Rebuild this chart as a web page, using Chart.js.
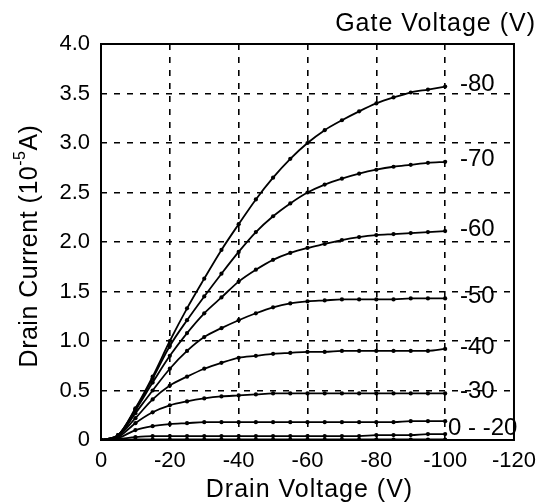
<!DOCTYPE html>
<html>
<head>
<meta charset="utf-8">
<script src="https://cdn.jsdelivr.net/npm/chart.js@4.4.0/dist/chart.umd.min.js"></script>
<style>
  html, body { margin: 0; padding: 0; background: #fff; }
  #wrap { width: 544px; height: 503px; }
</style>
</head>
<body>
<div id="wrap"><canvas id="iv-chart" width="544" height="503"></canvas></div>
<script>
// DATA (drain voltage in V, drain current in 1e-5 A)
const drainVoltage = [0, -5, -10, -15, -20, -25, -30, -35, -40, -45, -50, -55, -60, -65, -70, -75, -80, -85, -90, -95, -100];

const gateLabels = ["-80", "-70", "-60", "-50", "-40", "-30", "-20", "-10", "0"];

const current80 = [0, 0.05, 0.32, 0.64, 1.0, 1.33, 1.63, 1.92, 2.18, 2.43, 2.65, 2.84, 3.0, 3.13, 3.23, 3.32, 3.4, 3.46, 3.51, 3.54, 3.57];
const current70 = [0, 0.05, 0.31, 0.62, 0.95, 1.21, 1.45, 1.68, 1.9, 2.1, 2.26, 2.39, 2.5, 2.58, 2.64, 2.69, 2.73, 2.76, 2.78, 2.8, 2.81];
const current60 = [0, 0.05, 0.3, 0.58, 0.85, 1.08, 1.28, 1.44, 1.6, 1.72, 1.82, 1.89, 1.94, 1.98, 2.02, 2.05, 2.07, 2.08, 2.09, 2.1, 2.11];
const current50 = [0, 0.04, 0.27, 0.5, 0.72, 0.9, 1.04, 1.13, 1.21, 1.28, 1.34, 1.38, 1.4, 1.41, 1.42, 1.42, 1.42, 1.42, 1.43, 1.43, 1.43];
const current40 = [0, 0.04, 0.22, 0.41, 0.55, 0.64, 0.72, 0.78, 0.83, 0.85, 0.87, 0.88, 0.89, 0.89, 0.9, 0.9, 0.9, 0.9, 0.9, 0.9, 0.92];
const current30 = [0, 0.03, 0.17, 0.28, 0.35, 0.39, 0.42, 0.44, 0.45, 0.46, 0.47, 0.47, 0.47, 0.47, 0.47, 0.47, 0.47, 0.47, 0.47, 0.47, 0.47];
const current20 = [0, 0.02, 0.1, 0.14, 0.16, 0.17, 0.18, 0.18, 0.18, 0.18, 0.18, 0.18, 0.18, 0.18, 0.18, 0.18, 0.18, 0.18, 0.19, 0.19, 0.19];
const current10 = [0, 0.01, 0.03, 0.04, 0.04, 0.04, 0.04, 0.04, 0.04, 0.04, 0.04, 0.04, 0.04, 0.04, 0.04, 0.04, 0.05, 0.05, 0.05, 0.06, 0.06];
const current0  = [0, 0, 0.005, 0.005, 0.005, 0.005, 0.005, 0.005, 0.005, 0.005, 0.005, 0.005, 0.005, 0.005, 0.005, 0.005, 0.005, 0.005, 0.005, 0.005, 0.005];

const allCurrents = [current80, current70, current60, current50, current40, current30, current20, current10, current0];

const yTicks = [0, 0.5, 1.0, 1.5, 2.0, 2.5, 3.0, 3.5, 4.0];
const xTicks = [0, -20, -40, -60, -80, -100, -120];

const FONT = "'Liberation Sans', Arial, sans-serif";

// build datasets
const datasets = allCurrents.map((arr, i) => ({
  label: gateLabels[i],
  data: drainVoltage.map((v, j) => ({ x: v, y: arr[j] })),
  borderColor: "#000",
  backgroundColor: "#000",
  borderWidth: 1.8,
  pointRadius: 2.1,
  pointBorderWidth: 0,
  cubicInterpolationMode: "monotone"
}));

// text, frame and gate labels
const annotate = {
  id: "annotate",
  afterDraw(chart) {
    const ctx = chart.ctx;
    const a = chart.chartArea;
    const ys = chart.scales.y;

    ctx.save();
    ctx.strokeStyle = "#000";
    ctx.lineWidth = 2;
    ctx.strokeRect(a.left, a.top, a.right - a.left, a.bottom - a.top);

    ctx.fillStyle = "#000";
    ctx.textBaseline = "middle";

    // gate voltage labels at the curve ends
    ctx.font = "24px " + FONT;
    ctx.textAlign = "left";
    for (let i = 0; i < 6; i++) {
      const last = allCurrents[i][allCurrents[i].length - 1];
      ctx.fillText(gateLabels[i], a.right - 54, ys.getPixelForValue(last) - 2);
    }
    const lowEnd = (current20[20] + current10[20] + current0[20]) / 3;
    ctx.fillText(gateLabels[8] + " - " + gateLabels[6], a.right - 66, ys.getPixelForValue(lowEnd) - 3);

    // titles
    ctx.font = "25px " + FONT;
    ctx.letterSpacing = "1px";
    ctx.textAlign = "right";
    ctx.fillText("Gate Voltage (V)", 536, 24);

    ctx.textAlign = "center";
    ctx.fillText("Drain Voltage (V)", (a.left + a.right) / 2 + 2, 490);

    // y title with superscript
    ctx.letterSpacing = "0.5px";
    ctx.translate(30, 246);
    ctx.rotate(-Math.PI / 2);
    const big = "25px " + FONT, small = "16px " + FONT;
    const parts = [["Drain Current (10", big, 0], ["-5", small, -9], ["A)", big, 0]];
    let total = 0;
    parts.forEach(p => { ctx.font = p[1]; total += ctx.measureText(p[0]).width; });
    let x = -total / 2;
    ctx.textAlign = "left";
    parts.forEach(p => {
      ctx.font = p[1];
      ctx.fillText(p[0], x, p[2]);
      x += ctx.measureText(p[0]).width;
    });
    ctx.restore();
  }
};

const edgeValues = [0, 4, -120];
function gridColor(c) {
  return edgeValues.includes(c.tick.value) ? "rgba(0,0,0,0)" : "#000";
}

new Chart(document.getElementById("iv-chart"), {
  type: "line",
  data: { datasets: datasets },
  options: {
    responsive: false,
    animation: false,
    devicePixelRatio: 1,
    layout: { padding: { left: 0, right: 23, top: 44, bottom: 0 } },
    plugins: {
      legend: { display: false },
      tooltip: { enabled: false }
    },
    scales: {
      x: {
        type: "linear",
        min: -120,
        max: 0,
        reverse: true,
        afterFit(scale) { scale.height = 63; },
        afterBuildTicks(scale) { scale.ticks = xTicks.map(v => ({ value: v })); },
        ticks: {
          color: "#000",
          font: { family: FONT, size: 22 },
          padding: 8,
          maxRotation: 0,
          autoSkip: false,
          callback: v => String(v)
        },
        grid: { color: gridColor, lineWidth: 1.6, drawTicks: false },
        border: { display: false, dash: [6, 7] }
      },
      y: {
        min: 0,
        max: 4,
        afterFit(scale) { scale.width = 101; },
        afterBuildTicks(scale) { scale.ticks = yTicks.map(v => ({ value: v })); },
        ticks: {
          color: "#000",
          font: { family: FONT, size: 22 },
          padding: 11,
          callback: v => (v === 0 ? "0" : v.toFixed(1))
        },
        grid: { color: gridColor, lineWidth: 1.6, drawTicks: false },
        border: { display: false, dash: [6, 7] }
      }
    }
  },
  plugins: [annotate]
});
</script>
</body>
</html>
